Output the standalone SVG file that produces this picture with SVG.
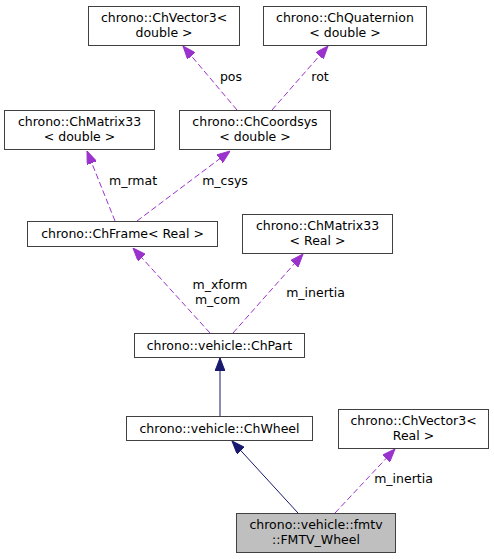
<svg xmlns="http://www.w3.org/2000/svg" width="494" height="559" viewBox="0 0 494 559">
<style>
.n rect{fill:#ffffff;stroke:#404040;stroke-width:1}
.n.t rect{fill:#bfbfbf}
text{font-family:"DejaVu Sans","Liberation Sans",sans-serif;font-size:12.5px;fill:#000;text-anchor:middle}
.d{fill:none;stroke:#9a32cd;stroke-width:1;stroke-dasharray:6,3}
.s{fill:none;stroke:#191970;stroke-width:1}
</style>
<defs>
<marker id="ap" markerUnits="userSpaceOnUse" viewBox="0 0 13 10" refX="13" refY="5" markerWidth="13" markerHeight="10" orient="auto"><path d="M0,0L13,5L0,10z" fill="#9a32cd" stroke="#9a32cd"/></marker>
<marker id="an" markerUnits="userSpaceOnUse" viewBox="0 0 13 10" refX="13" refY="5" markerWidth="13" markerHeight="10" orient="auto"><path d="M0,0L13,5L0,10z" fill="#191970" stroke="#191970"/></marker>
</defs>
<g id="edges">
<path class="d" d="M237,110L183,46" marker-end="url(#ap)"/>
<text x="231" y="81">pos</text>
<path class="d" d="M272,110L328,46" marker-end="url(#ap)"/>
<text x="320" y="81">rot</text>
<path class="d" d="M115,221L87,151" marker-end="url(#ap)"/>
<text x="133" y="185">m_rmat</text>
<path class="d" d="M137,221L230,151" marker-end="url(#ap)"/>
<text x="225" y="185">m_csys</text>
<path class="d" d="M210,333L133,248" marker-end="url(#ap)"/>
<text x="220" y="289">m_xform</text>
<text x="217.5" y="304">m_com</text>
<path class="d" d="M233,333L303,254" marker-end="url(#ap)"/>
<text x="315.5" y="297">m_inertia</text>
<path class="s" d="M220,416L220,358" marker-end="url(#an)"/>
<path class="s" d="M298,513L232,441" marker-end="url(#an)"/>
<path class="d" d="M335,513L395,449" marker-end="url(#ap)"/>
<text x="403.5" y="483">m_inertia</text>
</g>
<g id="node_vec3d" class="n"><rect x="88.5" y="6.5" width="151" height="39"/><text x="164" y="22">chrono::ChVector3&lt;</text><text x="164" y="37">double &gt;</text></g>
<g id="node_quatd" class="n"><rect x="263.5" y="6.5" width="163" height="39"/><text x="345" y="22">chrono::ChQuaternion</text><text x="345" y="37">&lt; double &gt;</text></g>
<g id="node_mat33d" class="n"><rect x="4.5" y="110.5" width="150" height="39"/><text x="79.5" y="126">chrono::ChMatrix33</text><text x="79.5" y="141">&lt; double &gt;</text></g>
<g id="node_csysd" class="n"><rect x="179.5" y="110.5" width="151" height="39"/><text x="255" y="126">chrono::ChCoordsys</text><text x="255" y="141">&lt; double &gt;</text></g>
<g id="node_frame" class="n"><rect x="27.5" y="221.5" width="190" height="25"/><text x="122.5" y="238">chrono::ChFrame&lt; Real &gt;</text></g>
<g id="node_mat33r" class="n"><rect x="242.5" y="214.5" width="150" height="39"/><text x="317.5" y="230">chrono::ChMatrix33</text><text x="317.5" y="245">&lt; Real &gt;</text></g>
<g id="node_part" class="n"><rect x="134.5" y="333.5" width="170" height="24"/><text x="219.5" y="350">chrono::vehicle::ChPart</text></g>
<g id="node_wheel" class="n"><rect x="126.5" y="416.5" width="186" height="24"/><text x="219.5" y="433">chrono::vehicle::ChWheel</text></g>
<g id="node_vec3r" class="n"><rect x="338.5" y="409.5" width="150" height="39"/><text x="413.5" y="425">chrono::ChVector3&lt;</text><text x="413.5" y="440">Real &gt;</text></g>
<g id="node_fmtv" class="n t"><rect x="236.5" y="513.5" width="159" height="39"/><text x="316" y="529">chrono::vehicle::fmtv</text><text x="316" y="544">::FMTV_Wheel</text></g>
</svg>
